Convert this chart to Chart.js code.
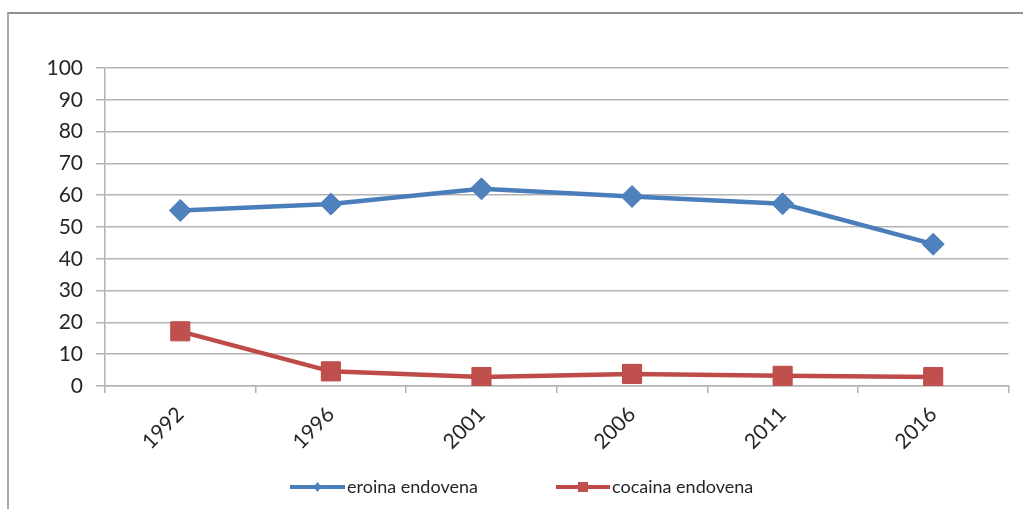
<!DOCTYPE html>
<html>
<head>
<meta charset="utf-8">
<script src="https://cdn.jsdelivr.net/npm/chart.js@4/dist/chart.umd.min.js"></script>
<style>
  html, body { margin: 0; padding: 0; background: #ffffff; }
  #wrap { position: relative; width: 1023px; height: 509px; overflow: hidden; }
  #frame {
    position: absolute; left: 7px; top: 12px; width: 1100px; height: 600px;
    border-top: 2px solid #8f8f8f; border-left: 2px solid #a9a9a9;
    box-sizing: border-box;
  }
  #c { position: absolute; left: 0; top: 0; }
</style>
</head>
<body>
<div id="wrap">
  <div id="frame"></div>
  <canvas id="c" width="1023" height="509"></canvas>
</div>
<script>
// Survey years
const years = ['1992', '1996', '2001', '2006', '2011', '2016'];
// Share of users (%) by route of use
const eroinaEndovena = [55.2, 57.2, 62.0, 59.6, 57.3, 44.6];
const cocainaEndovena = [17.2, 4.6, 2.8, 3.8, 3.2, 2.8];
// Series names
const seriesNames = ['eroina endovena', 'cocaina endovena'];
// Value axis ticks
const yTicks = [0, 10, 20, 30, 40, 50, 60, 70, 80, 90, 100];

const FONT = 'Lato, "Open Sans", sans-serif';
const TEXT = '#262626';
const GRID = '#b3b3b3';

const BLUE_LINE = '#4a7ebb', BLUE_FILL = '#4f81bd';
const RED_LINE = '#be4b48', RED_FILL = '#c0504d';

// Legend drawn below the plot: a short line with the series marker, then the name
const lineLegend = {
  id: 'lineLegend',
  afterDraw(chart) {
    const ctx = chart.ctx;
    const y = 487;
    const items = [
      { x: 290, w: 55, ds: chart.data.datasets[0] },
      { x: 556, w: 54, ds: chart.data.datasets[1] }
    ];
    ctx.save();
    items.forEach(it => {
      const ds = it.ds;
      ctx.strokeStyle = ds.borderColor;
      ctx.lineWidth = 4;
      ctx.beginPath();
      ctx.moveTo(it.x, y);
      ctx.lineTo(it.x + it.w, y);
      ctx.stroke();
      const cx = it.x + it.w / 2;
      ctx.fillStyle = ds.pointBackgroundColor;
      ctx.beginPath();
      if (ds.pointStyle === 'rectRot') {
        ctx.moveTo(cx, y - 5); ctx.lineTo(cx + 4, y); ctx.lineTo(cx, y + 5); ctx.lineTo(cx - 4, y);
        ctx.closePath();
      } else {
        ctx.rect(cx - 5, y - 5, 10, 10);
      }
      ctx.fill();
      ctx.fillStyle = TEXT;
      ctx.font = '18px ' + FONT;
      ctx.textBaseline = 'middle';
      ctx.textAlign = 'left';
      ctx.fillText(ds.label, it.x + it.w + 2, y);
    });
    ctx.restore();
  }
};

new Chart(document.getElementById('c'), {
  type: 'line',
  data: {
    labels: years,
    datasets: [
      {
        label: seriesNames[0],
        data: eroinaEndovena,
        borderColor: BLUE_LINE,
        borderWidth: 4.5,
        pointStyle: 'rectRot',
        pointRadius: 11,
        pointHoverRadius: 11,
        pointBackgroundColor: BLUE_FILL,
        pointBorderColor: BLUE_LINE,
        pointBorderWidth: 1,
        tension: 0
      },
      {
        label: seriesNames[1],
        data: cocainaEndovena,
        borderColor: RED_LINE,
        borderWidth: 4.5,
        pointStyle: 'rect',
        pointRadius: 13.5,
        pointHoverRadius: 13.5,
        pointBackgroundColor: RED_FILL,
        pointBorderColor: RED_LINE,
        pointBorderWidth: 1,
        tension: 0
      }
    ]
  },
  options: {
    responsive: false,
    animation: false,
    events: [],
    layout: { padding: { left: 0, right: 13, top: 68, bottom: 43 } },
    plugins: {
      legend: { display: false },
      tooltip: { enabled: false }
    },
    scales: {
      x: {
        offset: true,
        grid: {
          offset: true,
          drawOnChartArea: false,
          drawTicks: true,
          tickLength: 7,
          color: GRID,
          lineWidth: 1.5
        },
        border: { color: GRID, width: 1.5 },
        ticks: {
          color: TEXT,
          font: { family: FONT, size: 21 },
          maxRotation: 45,
          minRotation: 45,
          padding: 9,
          autoSkip: false
        },
        afterFit(scale) { scale.height = 80; }
      },
      y: {
        min: 0,
        max: 100,
        afterBuildTicks(scale) { scale.ticks = yTicks.map(v => ({ value: v })); },
        grid: {
          color: GRID,
          lineWidth: 1.5,
          drawTicks: true,
          tickLength: 9
        },
        border: { color: GRID, width: 1.5 },
        ticks: {
          color: TEXT,
          font: { family: FONT, size: 21 },
          padding: 13
        },
        afterFit(scale) { scale.width = 105; }
      }
    }
  },
  plugins: [lineLegend]
});
</script>
</body>
</html>
